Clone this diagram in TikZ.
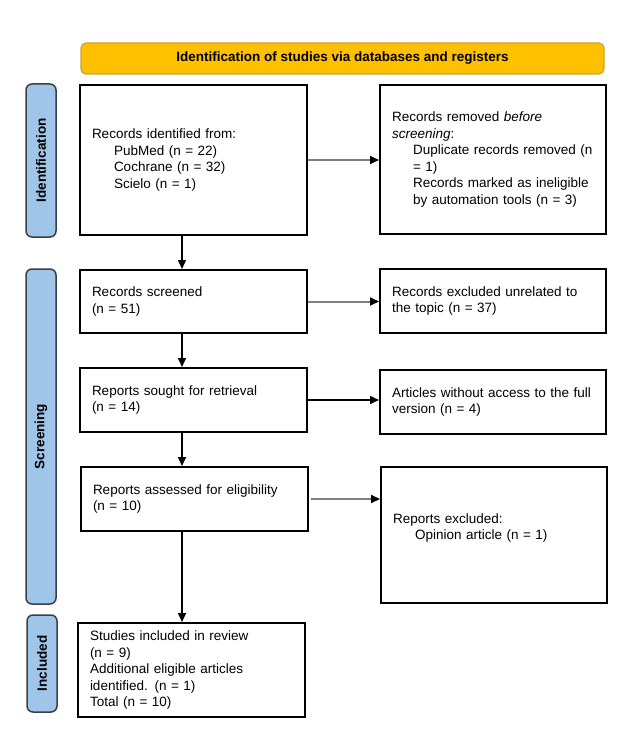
\documentclass[tikz,border=0pt]{standalone}
\usepackage{fontspec}
\setmainfont{Liberation Sans}
\usetikzlibrary{arrows.meta,calc}
\definecolor{hdrfill}{HTML}{FFC000}
\definecolor{hdrdraw}{HTML}{C9A43C}
\definecolor{labfill}{HTML}{9FC5E8}
\definecolor{labdraw}{HTML}{3A3F45}
\definecolor{arrgray}{HTML}{7F7F7F}
\tikzset{
  box/.style={draw=black, line width=2pt, fill=white, inner xsep=12pt, inner ysep=0pt,
    align=left, font=\fontsize{13.5}{16.5}\selectfont, anchor=center},
  hdrbox/.style={draw=hdrdraw, fill=hdrfill, line width=1.2pt, rounded corners=5pt,
    minimum width=523pt, minimum height=31pt, inner sep=0pt,
    font=\bfseries\fontsize{13.5}{16}\selectfont},
  sidelab/.style={draw=labdraw, fill=labfill, line width=1.5pt, rounded corners=6pt,
    minimum width=30pt, inner sep=0pt},
  sidetext/.style={rotate=90, font=\bfseries\fontsize{13.5}{16}\selectfont, inner sep=0pt},
  arr/.style={line width=1.5pt, -{Triangle[length=9pt,width=8pt,color=black]}},
  garr/.style={arr, draw=arrgray, line width=2pt},
}
\newcommand{\ind}{\hspace*{22pt}}
\begin{document}
\begin{tikzpicture}[x=1pt,y=-1pt]
\useasboundingbox (0,0) rectangle (632,746);

\node[hdrbox] (hdr) at (342.5,58.5) {Identification of studies via databases and registers};

% side labels
\node[sidelab, minimum height=153pt] (idlab) at (41,160.5) {};
\node[sidetext] (idtxt) at (idlab.center) {Identification};
\node[sidelab, minimum height=335pt] (scrlab) at (41,436.5) {};
\node[sidetext] (scrtxt) at (scrlab.center) {Screening};
\node[sidelab, minimum height=97pt] (inclab) at (42,663.5) {};
\node[sidetext] (inctxt) at (inclab.center) {Included};

% boxes
\node[box, text width=203pt, minimum height=150pt] (b1) at (193.5,160)
  {Records identified from:\\ \ind PubMed (n = 22)\\ \ind Cochrane (n = 32)\\ \ind Scielo (n = 1)};
\node[box, text width=202pt, minimum height=149pt] (b2) at (493,159.5)
  {Records removed \textit{before}\\ \textit{screening}:\\ \hspace*{21pt}Duplicate records removed (n\\ \hspace*{21pt}= 1)\\ \hspace*{21pt}Records marked as ineligible\\ \hspace*{21pt}by automation tools (n = 3)};

\node[box, text width=203pt, minimum height=63pt] (b3) at (193.5,301.5)
  {Records screened\\ (n = 51)};
\node[box, text width=202pt, minimum height=64pt] (b4) at (493,301)
  {Records excluded unrelated to\\ the topic (n = 37)};

\node[box, text width=203pt, minimum height=64pt] (b5) at (193.5,400)
  {Reports sought for retrieval\\ (n = 14)};
\node[box, text width=202pt, minimum height=64pt] (b6) at (493,402)
  {Articles without access to the full\\ version (n = 4)};

\node[box, text width=203pt, minimum height=64pt] (b7) at (194.5,499)
  {Reports assessed for eligibility\\ (n = 10)};
\node[box, text width=202pt, minimum height=136pt] (b8) at (494,535)
  {Reports excluded:\\ \ind Opinion article (n = 1)\\ \mbox{}};

\node[box, text width=203pt, minimum height=94pt] (b9) at (191.5,670)
  {Studies included in review\\ (n = 9)\\ Additional eligible articles\\ identified. (n = 1)\\ Total (n = 10)};

% connectors
\coordinate (vx) at (182,0);
\draw[garr] (b1.east) -- (b2.west |- b1.east);
\draw[arr] (b1.south -| vx) -- (b3.north -| vx);
\draw[garr] (b3.east) -- (b4.west |- b3.east);
\draw[arr] (b3.south -| vx) -- (b5.north -| vx);
\draw[arr] (b5.east) -- (b6.west |- b5.east);
\draw[arr] (b5.south -| vx) -- (b7.north -| vx);
\draw[garr] ([xshift=2pt]b7.east) -- (b8.west |- b7.east);
\draw[arr] (b7.south -| vx) -- (b9.north -| vx);
\end{tikzpicture}
\end{document}
